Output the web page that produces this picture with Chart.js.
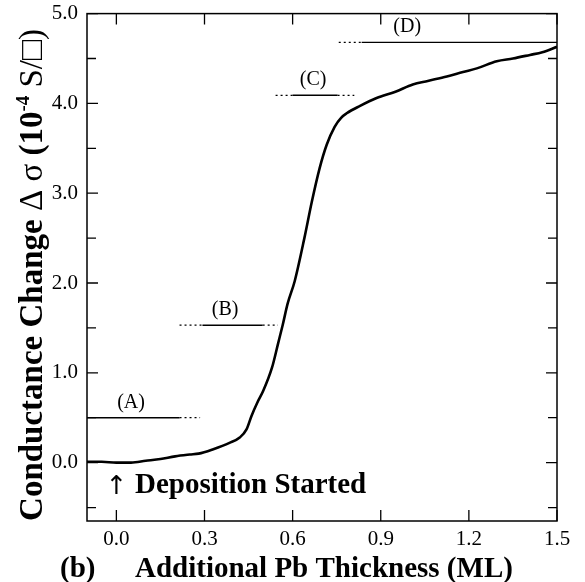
<!DOCTYPE html>
<html>
<head>
<meta charset="utf-8">
<script src="https://cdn.jsdelivr.net/npm/chart.js@4.4.0/dist/chart.umd.min.js"></script>
<style>
html, body { margin: 0; padding: 0; background: #fff; }
</style>
</head>
<body>
<canvas id="myChart" width="585" height="582"></canvas>
<script>
// curve (ML, 10^-4 S/sq)
const thickness = [-0.1, -0.05, 0, 0.05, 0.1, 0.15, 0.2, 0.25, 0.28, 0.33, 0.385, 0.42, 0.443, 0.46, 0.48, 0.5, 0.53, 0.55, 0.566, 0.583, 0.607, 0.64, 0.665, 0.692, 0.716, 0.743, 0.765, 0.784, 0.828, 0.886, 0.95, 1.009, 1.06, 1.125, 1.18, 1.227, 1.295, 1.35, 1.408, 1.45, 1.5]
const conductance = [0.01, 0.01, 0.0, 0.0, 0.02, 0.04, 0.07, 0.09, 0.1, 0.15, 0.22, 0.28, 0.37, 0.52, 0.67, 0.8, 1.06, 1.32, 1.53, 1.77, 2.02, 2.5, 2.9, 3.28, 3.54, 3.74, 3.84, 3.89, 3.97, 4.06, 4.13, 4.21, 4.25, 4.30, 4.35, 4.39, 4.47, 4.5, 4.54, 4.57, 4.63]

const xTicks = [0, 0.3, 0.6, 0.9, 1.2, 1.5]
const yTicks = [0, 1, 2, 3, 4, 5]
const yMinorTicks = [-0.5, 0.5, 1.5, 2.5, 3.5, 4.5]

// reference levels (A)-(D)
const refNames = ['(A)', '(B)', '(C)', '(D)']
const refLevels = [0.5, 1.53, 4.09, 4.68]
const refSolid = [[-0.1, 0.215], [0.293, 0.498], [0.6, 0.753], [0.835, 1.5]]
const refDotted = [[[0.215, 0.285]], [[0.215, 0.293], [0.498, 0.55]], [[0.542, 0.6], [0.753, 0.81]], [[0.757, 0.835]]]
const refLabelX = [0.05, 0.37, 0.67, 0.99]

const serif = "'Liberation Serif', 'Times New Roman', serif"

const datasets = [{
    data: thickness.map((x, i) => ({ x, y: conductance[i] })),
    borderColor: '#000',
    borderWidth: 2.6,
    pointRadius: 0,
    cubicInterpolationMode: 'monotone',
}]
refLevels.forEach((lvl, i) => {
    datasets.push({
        data: refSolid[i].map(x => ({ x, y: lvl })),
        borderColor: '#000',
        borderWidth: 1.4,
        pointRadius: 0,
    })
    refDotted[i].forEach(seg => {
        datasets.push({
            data: seg.map(x => ({ x, y: lvl })),
            borderColor: '#000',
            borderWidth: 1.2,
            borderDash: [2, 3],
            pointRadius: 0,
        })
    })
})

const frame = {
    id: 'frame',
    afterDatasetsDraw(chart) {
        const { ctx, chartArea: a, scales: { x, y } } = chart
        ctx.save()
        ctx.strokeStyle = '#000'
        ctx.lineWidth = 1.5
        ctx.strokeRect(a.left, a.top, a.right - a.left, a.bottom - a.top)

        ctx.lineWidth = 1.3
        ctx.beginPath()
        xTicks.forEach(v => {
            const px = x.getPixelForValue(v)
            ctx.moveTo(px, a.bottom); ctx.lineTo(px, a.bottom - 11)
            ctx.moveTo(px, a.top); ctx.lineTo(px, a.top + 11)
        })
        yTicks.forEach(v => {
            const py = y.getPixelForValue(v)
            ctx.moveTo(a.left, py); ctx.lineTo(a.left + 11, py)
            ctx.moveTo(a.right, py); ctx.lineTo(a.right - 11, py)
        })
        yMinorTicks.forEach(v => {
            const py = y.getPixelForValue(v)
            ctx.moveTo(a.left, py); ctx.lineTo(a.left + 9, py)
            ctx.moveTo(a.right, py); ctx.lineTo(a.right - 9, py)
        })
        ctx.stroke()

        // labels over reference levels
        ctx.fillStyle = '#000'
        ctx.font = '20px ' + serif
        ctx.textAlign = 'center'
        ctx.textBaseline = 'alphabetic'
        refNames.forEach((n, i) => {
            ctx.fillText(n, x.getPixelForValue(refLabelX[i]), y.getPixelForValue(refLevels[i]) - 10)
        })

        // deposition marker
        const x0 = x.getPixelForValue(0)
        ctx.font = "26px 'DejaVu Sans', sans-serif"
        ctx.fillText('\u2191', x0, 494)
        ctx.textAlign = 'left'
        ctx.font = 'bold 29px ' + serif
        ctx.fillText('Deposition Started', 135, 493)

        // x title
        ctx.fillText('(b)', 60, 577)
        ctx.fillText('Additional Pb Thickness (ML)', 135, 577)

        // y title, rotated, with superscript
        const parts = [
            ['bold 33px ' + serif, 'Conductance Change ', 0],
            ['33px ' + serif, '\u0394 \u03c3 ', 0],
            ['bold 33px ' + serif, '(10', 0],
            ['bold 19px ' + serif, '-4', -13],
            ['33px ' + serif, ' S/\u25a1)', 0],
        ]
        let total = 0
        parts.forEach(p => { ctx.font = p[0]; total += ctx.measureText(p[1]).width })
        ctx.translate(42, 275)
        ctx.rotate(-Math.PI / 2)
        let cx = -total / 2
        parts.forEach(p => {
            ctx.font = p[0]
            ctx.fillText(p[1], cx, p[2])
            cx += ctx.measureText(p[1]).width
        })
        ctx.restore()
    }
}

const ctx = document.getElementById('myChart').getContext('2d')
const myChart = new Chart(ctx, {
    type: 'line',
    data: { datasets },
    options: {
        responsive: false,
        animation: false,
        devicePixelRatio: 1,
        layout: { padding: { top: 12, right: 28, left: 0, bottom: 0 } },
        plugins: { legend: { display: false }, tooltip: { enabled: false } },
        scales: {
            x: {
                type: 'linear',
                min: -0.1,
                max: 1.5,
                afterBuildTicks: s => { s.ticks = xTicks.map(value => ({ value })) },
                afterFit: s => { s.height = 61 },
                grid: { display: false },
                border: { display: false },
                ticks: {
                    autoSkip: false,
                    maxRotation: 0,
                    padding: -2,
                    color: '#000',
                    font: { family: serif, size: 21 },
                    callback: v => v.toFixed(1),
                },
            },
            y: {
                type: 'linear',
                min: -0.65,
                max: 5.0,
                afterBuildTicks: s => { s.ticks = yTicks.map(value => ({ value })) },
                afterFit: s => { s.width = 87 },
                grid: { display: false },
                border: { display: false },
                ticks: {
                    autoSkip: false,
                    padding: 1,
                    color: '#000',
                    font: { family: serif, size: 21 },
                    callback: v => v.toFixed(1),
                },
            },
        },
    },
    plugins: [frame],
})
</script>
</body>
</html>
